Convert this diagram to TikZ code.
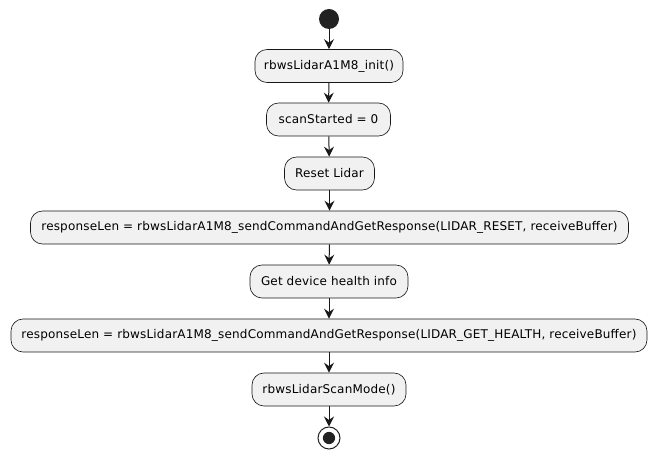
\documentclass[tikz,border=0pt]{standalone}
\usepackage{fontspec}
\setmainfont{DejaVu Sans}
\newfontfamily\actfont[LetterSpace=1.5]{DejaVu Sans}
\usetikzlibrary{arrows.meta}
\definecolor{actfill}{HTML}{F1F1F1}
\definecolor{actline}{HTML}{181818}
\definecolor{dotfill}{HTML}{222222}
\begin{document}
\begin{tikzpicture}[x=0.75pt,y=-0.75pt,
  action/.style={draw=actline,line width=0.5pt,fill=actfill,rounded corners=9pt,
    minimum height=24.75pt,inner xsep=5pt,font=\actfont\fontsize{9pt}{11pt}\selectfont},
  arr/.style={draw=actline,line width=0.75pt,-{Stealth[length=7.5pt,width=7.5pt,inset=2.6pt]}}]
  \useasboundingbox (0,0) rectangle (657,459);
  % start and actions
  \node[circle,fill=dotfill,minimum size=15pt,inner sep=0pt] (start) at (329,19) {};
  \node[action,minimum width=111pt] (init) at (329,66) {rbwsLidarA1M8\_init()};
  \node[action,minimum width=93pt] (scan) at (328.5,119.5) {scanStarted = 0};
  \node[action,minimum width=67.5pt] (reset) at (329.5,173.5) {Reset Lidar};
  \node[action,minimum width=448.5pt] (sendreset) at (329.5,227.5) {responseLen = rbwsLidarA1M8\_sendCommandAndGetResponse(LIDAR\_RESET, receiveBuffer)};
  \node[action,minimum width=118.5pt] (health) at (329,281.5) {Get device health info};
  \node[action,minimum width=477pt] (sendhealth) at (329,335.5) {responseLen = rbwsLidarA1M8\_sendCommandAndGetResponse(LIDAR\_GET\_HEALTH, receiveBuffer)};
  \node[action,minimum width=115.5pt] (mode) at (329,389.5) {rbwsLidarScanMode()};
  % stop
  \node[circle,draw=dotfill,line width=0.75pt,fill=white,minimum size=16.5pt,inner sep=0pt] (stop) at (329,438) {};
  \fill[dotfill] (stop.center) circle (4.6pt);
  % connectors
  \draw[arr] (start) -- (init);
  \draw[arr] (init) -- (scan);
  \draw[arr] (scan) -- (reset);
  \draw[arr] (reset) -- (sendreset);
  \draw[arr] (sendreset) -- (health);
  \draw[arr] (health) -- (sendhealth);
  \draw[arr] (sendhealth) -- (mode);
  \draw[arr] (mode) -- (stop);
\end{tikzpicture}
\end{document}
